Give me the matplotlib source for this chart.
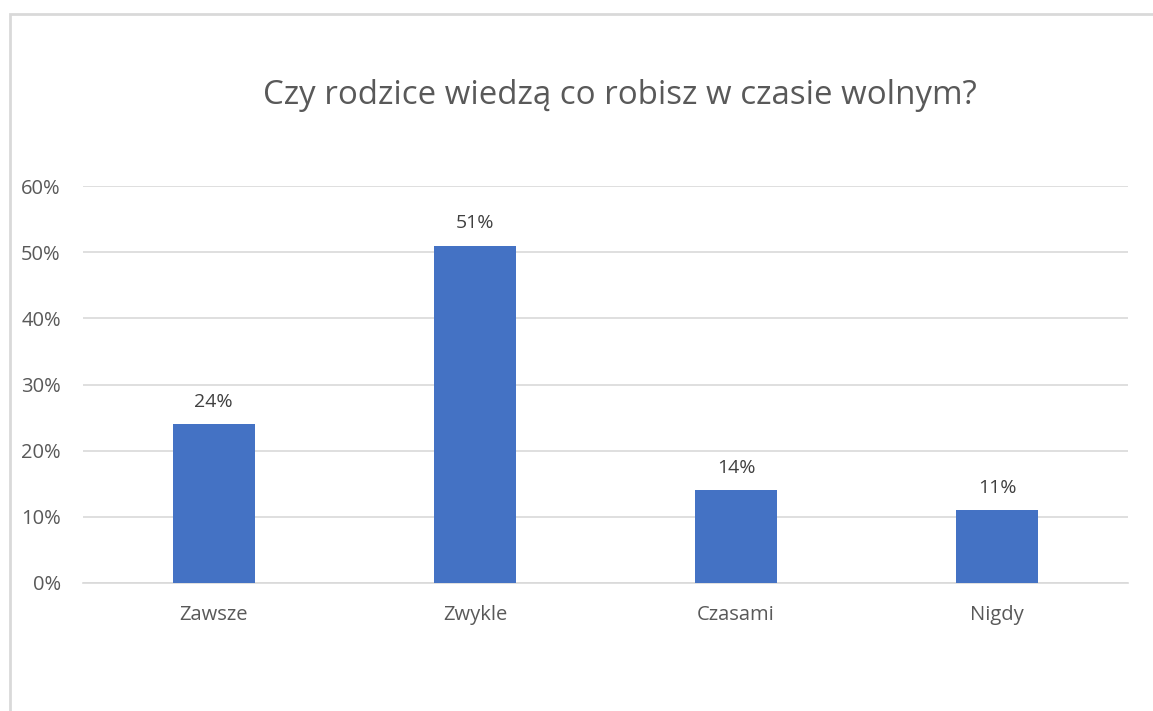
import matplotlib.pyplot as plt
from matplotlib.patches import Rectangle
from matplotlib.ticker import PercentFormatter

plt.rcParams['font.family'] = ['Open Sans', 'DejaVu Sans']

categories = ['Zawsze', 'Zwykle', 'Czasami', 'Nigdy']
values = [24, 51, 14, 11]
yticks = [0, 10, 20, 30, 40, 50, 60]

fig = plt.figure(figsize=(11.53, 7.11), dpi=100)

# chart area frame (only top and left edges show)
fig.add_artist(Rectangle((10 / 1153, -0.1), 1.2, (711 - 14) / 711 + 0.1,
                         transform=fig.transFigure, fill=False,
                         edgecolor='#d9d9d9', linewidth=2))

ax = fig.add_axes([83 / 1153, 128 / 711, 1045 / 1153, 397 / 711])
x = range(len(categories))
bars = ax.bar(x, values, width=0.314, color='#4472C4', zorder=3)

for b, v in zip(bars, values):
    ax.text(b.get_x() + b.get_width() / 2, v + 2.0, f'{v}%',
            ha='center', va='bottom', fontsize=14, color='#404040')

ax.set_xlim(-0.5, len(categories) - 0.5)
ax.set_ylim(0, 60)
ax.set_yticks(yticks)
ax.yaxis.set_major_formatter(PercentFormatter(decimals=0))
ax.set_xticks(list(x))
ax.set_xticklabels(categories)
ax.tick_params(axis='both', length=0, labelsize=14.5, labelcolor='#595959')
ax.tick_params(axis='y', pad=16)
ax.tick_params(axis='x', pad=16)
ax.grid(axis='y', color='#d9d9d9', linewidth=1.2, zorder=0)
for s in ['top', 'right', 'left']:
    ax.spines[s].set_visible(False)
ax.spines['bottom'].set_color('#d9d9d9')
ax.spines['bottom'].set_linewidth(1.2)

fig.text(620 / 1153, 1 - 95 / 711, 'Czy rodzice wiedzą co robisz w czasie wolnym?',
         ha='center', va='center', fontsize=23.8, color='#595959')

fig.savefig('out.png', dpi=100)
